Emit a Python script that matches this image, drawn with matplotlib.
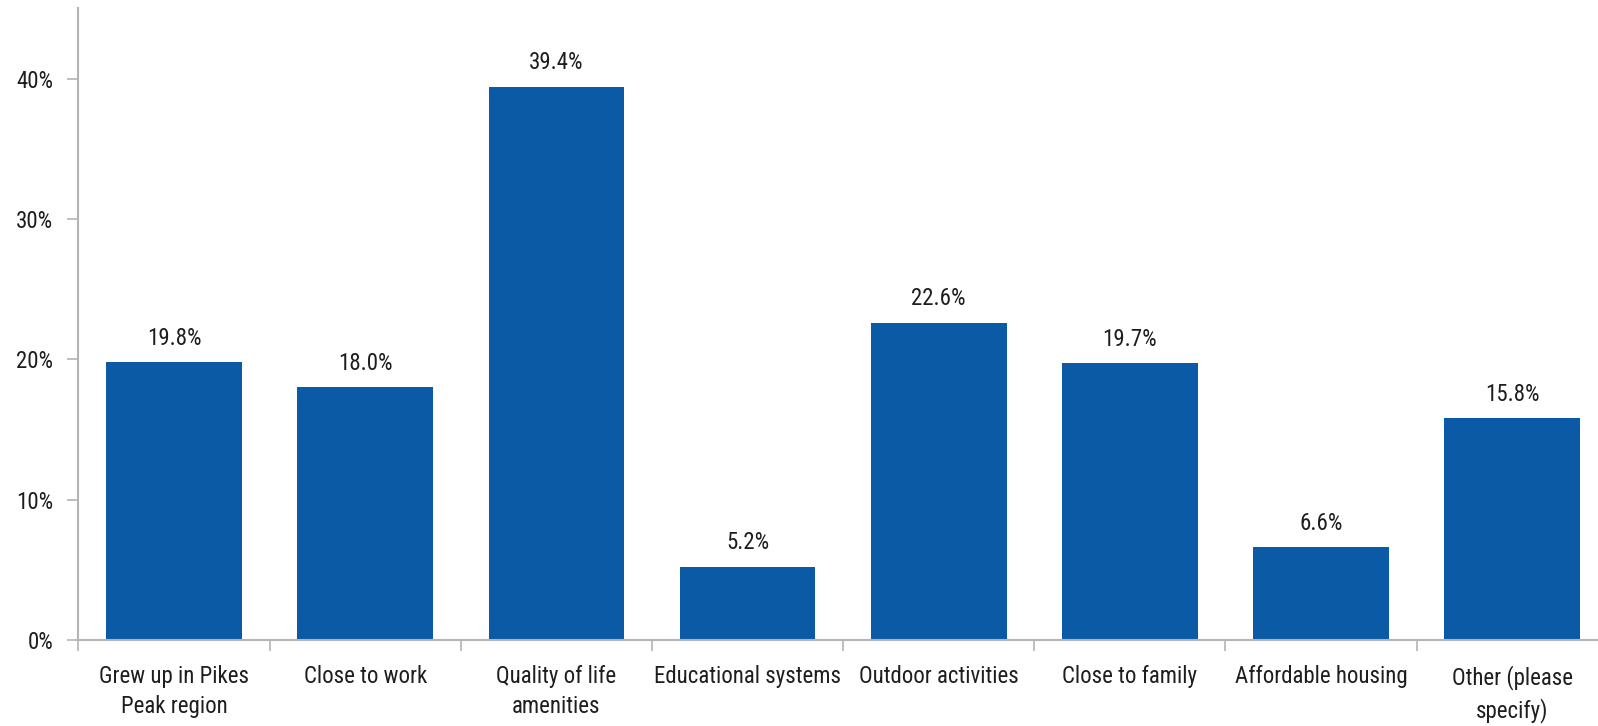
import matplotlib
matplotlib.use("Agg")
import matplotlib.pyplot as plt
from matplotlib.ticker import FuncFormatter, FixedLocator

plt.rcParams['font.family'] = ['Arial Narrow', 'Liberation Sans Narrow', 'Roboto Condensed', 'Archivo Narrow', 'DejaVu Sans']

categorias = ["Grew up in Pikes\nPeak region", "Close to work", "Quality of life\namenities",
              "Educational systems", "Outdoor activities", "Close to family",
              "Affordable housing", "Other (please\nspecify)"]
valores = [19.8, 18.0, 39.4, 5.2, 22.6, 19.7, 6.6, 15.8]

AZUL = "#0A5AA6"
CINZA = "#B4B4B4"
TEXTO = "#1E1E1E"
FS = 16.5

fig = plt.figure(figsize=(15.98, 7.26), dpi=100)
ax = fig.add_axes([0.0491, 0.1185, 0.957, 0.870])

x = list(range(len(valores)))
ax.bar(x, valores, width=0.71, color=AZUL, zorder=2)

for xi, v in zip(x, valores):
    ax.annotate(f"{v:.1f}%", (xi, v), xytext=(0, 9), textcoords="offset points",
                ha="center", va="bottom", fontsize=FS, color=TEXTO)

ax.set_xlim(-0.5, len(valores) - 0.5)
ax.set_ylim(0, 45)
ax.set_yticks([0, 10, 20, 30, 40])
ax.yaxis.set_major_formatter(FuncFormatter(lambda v, p: f"{v:.0f}%"))

ax.set_xticks(x)
ax.set_xticklabels(categorias, fontsize=FS, color=TEXTO, linespacing=1.4)
ax.xaxis.set_minor_locator(FixedLocator([i - 0.5 for i in range(len(valores) + 1)]))
ax.tick_params(axis="x", which="major", length=0, pad=18)
ax.tick_params(axis="x", which="minor", length=8, width=1.2, color=CINZA, direction="out")
ax.tick_params(axis="y", length=8, width=1.2, color=CINZA, labelsize=FS,
               labelcolor=TEXTO, pad=10)

for lado in ["top", "right"]:
    ax.spines[lado].set_visible(False)
for lado in ["left", "bottom"]:
    ax.spines[lado].set_color(CINZA)
    ax.spines[lado].set_linewidth(1.5)

fig.savefig("out.png", dpi=100)
